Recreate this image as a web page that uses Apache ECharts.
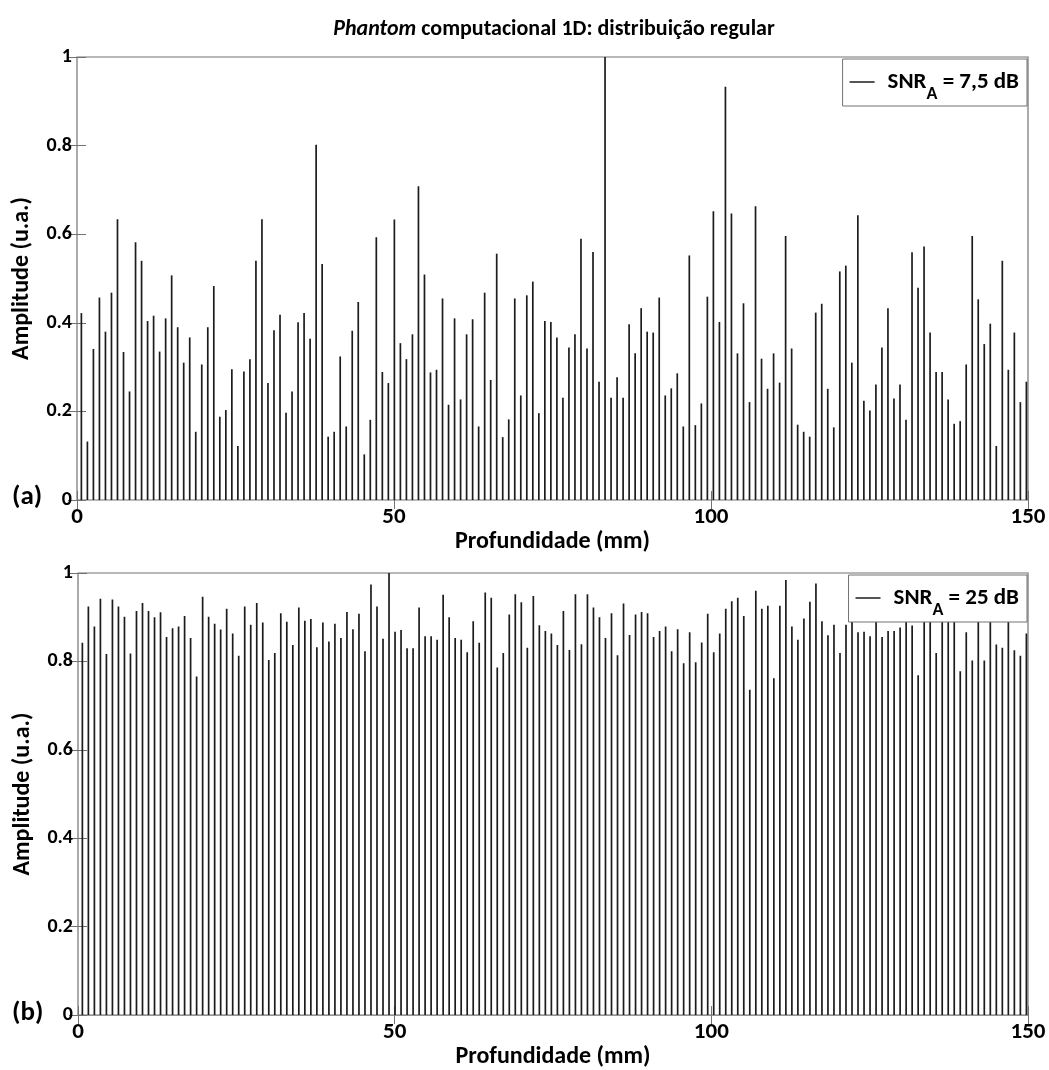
<!DOCTYPE html>
<html>
<head>
<meta charset="utf-8">
<script src="https://cdn.jsdelivr.net/npm/echarts@6/dist/echarts.min.js"></script>
<style>
html,body{margin:0;padding:0;background:#fff;}
#chart{width:1049px;height:1070px;}
</style>
</head>
<body>
<div id="chart"></div>
<script>
// Regular sampling grid of depth (mm)
const depthStart = 0.69;
const depthStep = 0.9494;

// Panel (a): SNR_A = 7,5 dB
const amplitudeA = [
0.422,0.132,0.341,0.457,0.380,0.468,0.634,0.334,0.245,0.582,
0.540,0.404,0.416,0.335,0.410,0.507,0.390,0.310,0.367,0.154,
0.306,0.390,0.483,0.188,0.203,0.295,0.122,0.290,0.318,0.540,
0.634,0.264,0.383,0.418,0.197,0.245,0.401,0.422,0.364,0.802,
0.533,0.143,0.154,0.324,0.166,0.382,0.447,0.103,0.181,0.593,
0.289,0.264,0.633,0.354,0.318,0.374,0.708,0.509,0.288,0.294,
0.455,0.215,0.410,0.227,0.374,0.408,0.166,0.468,0.271,0.556,
0.142,0.182,0.455,0.236,0.462,0.493,0.196,0.404,0.402,0.367,
0.231,0.344,0.374,0.590,0.342,0.560,0.267,1.000,0.231,0.277,
0.231,0.397,0.331,0.433,0.380,0.378,0.457,0.236,0.252,0.286,
0.166,0.552,0.169,0.218,0.459,0.652,0.402,0.933,0.647,0.331,
0.444,0.221,0.663,0.319,0.251,0.331,0.265,0.596,0.342,0.170,
0.154,0.143,0.423,0.443,0.251,0.164,0.516,0.529,0.310,0.643,
0.224,0.202,0.261,0.344,0.433,0.229,0.261,0.181,0.559,0.479,
0.572,0.378,0.289,0.289,0.227,0.172,0.178,0.306,0.596,0.453,
0.352,0.398,0.122,0.540,0.294,0.378,0.221,0.267
];

// Panel (b): SNR_A = 25 dB
const amplitudeB = [
0.842,0.924,0.879,0.942,0.817,0.940,0.924,0.901,0.818,0.914,
0.932,0.914,0.900,0.911,0.855,0.875,0.879,0.903,0.853,0.766,
0.946,0.901,0.885,0.872,0.919,0.863,0.813,0.924,0.883,0.932,
0.888,0.803,0.819,0.909,0.890,0.837,0.922,0.892,0.896,0.832,
0.888,0.845,0.885,0.853,0.912,0.873,0.908,0.823,0.974,0.924,
0.851,1.000,0.867,0.871,0.830,0.830,0.922,0.857,0.857,0.849,
0.951,0.900,0.853,0.849,0.821,0.891,0.842,0.956,0.944,0.786,
0.819,0.906,0.952,0.934,0.831,0.948,0.882,0.869,0.863,0.837,
0.914,0.826,0.952,0.839,0.952,0.922,0.900,0.853,0.909,0.814,
0.931,0.860,0.906,0.912,0.909,0.855,0.869,0.879,0.823,0.873,
0.796,0.866,0.798,0.843,0.908,0.821,0.863,0.919,0.936,0.944,
0.903,0.736,0.960,0.919,0.926,0.762,0.926,0.984,0.879,0.849,
0.897,0.935,0.976,0.891,0.859,0.883,0.819,0.883,0.930,0.866,
0.867,0.857,0.950,0.855,0.869,0.869,0.877,0.920,0.881,0.769,
0.940,0.930,0.819,0.920,0.950,0.930,0.778,0.866,0.802,0.930,
0.802,0.920,0.838,0.831,0.940,0.825,0.813,0.863
];

const xTicks = [0, 50, 100, 150];
const yTicks = [0, 0.2, 0.4, 0.6, 0.8, 1];
const seriesNames = ['SNR_A = 7,5 dB', 'SNR_A = 25 dB'];
const titleText = 'Phantom computacional 1D: distribuição regular';
const xName = 'Profundidade (mm)';
const yName = 'Amplitude (u.a.)';
const panelLabels = ['(a)', '(b)'];

const FONT = 'Carlito, Lato, "Open Sans", sans-serif';
const STEM = '#1c1c1c';
const FRAME = '#727272';

function toPoints(values) {
  return values.map((v, i) => [depthStart + i * depthStep, v]);
}

function stemRender(params, api) {
  const x = api.value(0), y = api.value(1);
  const p0 = api.coord([x, 0]);
  const p1 = api.coord([x, y]);
  return {
    type: 'line',
    shape: { x1: p0[0], y1: p0[1], x2: p1[0], y2: p1[1] },
    style: { stroke: STEM, lineWidth: 1.7 }
  };
}

const grids = [
  { left: 77, top: 57, width: 951, height: 443 },
  { left: 78, top: 573, width: 950, height: 443 }
];

const xAxes = [], yAxes = [];
grids.forEach((g, gi) => {
  xAxes.push({
    gridIndex: gi, type: 'value', min: xTicks[0], max: xTicks[xTicks.length - 1],
    interval: xTicks[1] - xTicks[0], position: 'bottom',
    axisLine: { show: false },
    axisTick: { inside: true, length: 9, lineStyle: { color: FRAME } },
    axisLabel: { margin: 6, color: '#000', fontFamily: FONT, fontWeight: 'bold', fontSize: 23 },
    splitLine: { show: false },
    name: xName, nameLocation: 'middle', nameGap: 28,
    nameTextStyle: { color: '#000', fontFamily: FONT, fontWeight: 'bold', fontSize: 24 }
  });
  xAxes.push({
    gridIndex: gi, type: 'value', min: xTicks[0], max: xTicks[xTicks.length - 1],
    interval: xTicks[1] - xTicks[0], position: 'top',
    axisLine: { show: false },
    axisTick: { inside: true, length: 9, lineStyle: { color: FRAME } },
    axisLabel: { show: false }, splitLine: { show: false }
  });
  yAxes.push({
    gridIndex: gi, type: 'value', min: yTicks[0], max: yTicks[yTicks.length - 1],
    interval: 0.2, position: 'left',
    axisLine: { show: false },
    axisTick: { inside: true, length: 9, lineStyle: { color: FRAME } },
    axisLabel: { margin: 5, color: '#000', fontFamily: FONT, fontWeight: 'bold', fontSize: 20 },
    splitLine: { show: false },
    name: yName, nameLocation: 'middle', nameGap: 43,
    nameTextStyle: { color: '#000', fontFamily: FONT, fontWeight: 'bold', fontSize: 24 }
  });
  yAxes.push({
    gridIndex: gi, type: 'value', min: yTicks[0], max: yTicks[yTicks.length - 1],
    interval: 0.2, position: 'right',
    axisLine: { show: false },
    axisTick: { inside: true, length: 9, lineStyle: { color: FRAME } },
    axisLabel: { show: false }, splitLine: { show: false }
  });
});

const legendRich = {
  p: { fontFamily: FONT, fontWeight: 'bold', fontSize: 23, color: '#000', lineHeight: 28, padding: [0, 0, 0, 8] },
  n: { fontFamily: FONT, fontWeight: 'bold', fontSize: 23, color: '#000', lineHeight: 28 },
  s: { fontFamily: FONT, fontWeight: 'bold', fontSize: 18, color: '#000', lineHeight: 18, padding: [24, 0, 0, 0] }
};
function legendFormatter(name) {
  const parts = name.split('_A');
  return '{p|' + parts[0] + '}{s|A}{n|' + parts[1] + '}';
}
function makeLegend(name, top) {
  return {
    data: [name], right: 22, top: top, orient: 'horizontal',
    backgroundColor: '#fff', borderColor: FRAME, borderWidth: 1,
    padding: [2, 8, 3, 7], icon: 'rect', itemWidth: 25, itemHeight: 1.5,
    selectedMode: false, formatter: legendFormatter,
    textStyle: { rich: legendRich }
  };
}

const option = {
  backgroundColor: '#fff',
  animation: false,
  grid: grids.map(g => Object.assign({ show: true, borderColor: FRAME, borderWidth: 1.2, containLabel: false }, g)),
  xAxis: xAxes,
  yAxis: yAxes,
  legend: [makeLegend(seriesNames[0], 59), makeLegend(seriesNames[1], 575)],
  series: [
    { type: 'custom', name: seriesNames[0], xAxisIndex: 0, yAxisIndex: 0,
      data: toPoints(amplitudeA), encode: { x: 0, y: 1 }, renderItem: stemRender,
      itemStyle: { color: STEM }, clip: true, silent: true },
    { type: 'custom', name: seriesNames[1], xAxisIndex: 2, yAxisIndex: 2,
      data: toPoints(amplitudeB), encode: { x: 0, y: 1 }, renderItem: stemRender,
      itemStyle: { color: STEM }, clip: true, silent: true }
  ],
  graphic: [
    { type: 'text', x: 554, y: 29, silent: true,
      style: { text: '{i|Phantom} computacional 1D: distribuição regular',
        fontFamily: FONT, fontWeight: 'bold', fontSize: 22, fill: '#000',
        align: 'center', verticalAlign: 'middle',
        rich: { i: { fontFamily: FONT, fontWeight: 'bold', fontStyle: 'italic', fontSize: 22, fill: '#000' } } } },
    { type: 'text', x: 12, y: 497, silent: true,
      style: { text: panelLabels[0], fontFamily: FONT, fontWeight: 'bold', fontSize: 27, fill: '#000', align: 'left', verticalAlign: 'middle' } },
    { type: 'text', x: 12, y: 1013, silent: true,
      style: { text: panelLabels[1], fontFamily: FONT, fontWeight: 'bold', fontSize: 27, fill: '#000', align: 'left', verticalAlign: 'middle' } }
  ]
};

const chart = echarts.init(document.getElementById('chart'), null, { renderer: 'canvas' });
chart.setOption(option);
</script>
</body>
</html>
